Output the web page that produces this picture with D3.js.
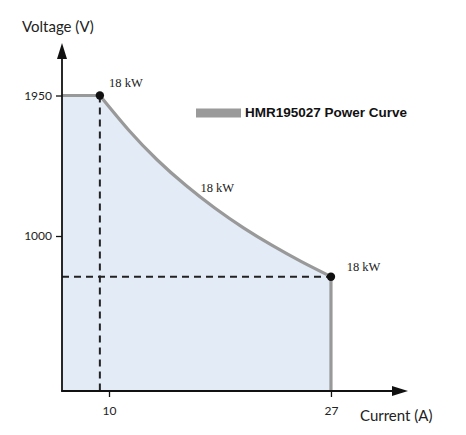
<!DOCTYPE html>
<html>
<head>
<meta charset="utf-8">
<script src="https://cdn.jsdelivr.net/npm/d3@7"></script>
<style>
  html, body { margin: 0; padding: 0; background: #fff; }
  svg { display: block; }
</style>
</head>
<body>
<svg id="chart" width="466" height="435"></svg>
<script>
// ---- data ----
const currentTicks = [10, 27];
const voltageTicks = [1000, 1950];
const curveCurrent = [9.3, 11.5, 13.7, 15.9, 18.1, 20.3, 22.5, 24.7, 27];
const curveVoltage = [1950, 1717, 1514, 1341, 1189, 1055, 936, 828, 725];
const powerLabels = ["18 kW", "18 kW", "18 kW"];
const labelCurrent = [10.0, 17.0, 28.2];
const labelVoltage = [2005, 1295, 765];
const seriesName = "HMR195027 Power Curve";
const xTitle = "Current (A)";
const yTitle = "Voltage (V)";

// ---- layout ----
const svg = d3.select("#chart");
const x = d3.scaleLinear().domain([6.4, 32.9]).range([62, 408]);
const y = d3.scaleLinear().domain([-48, 2305]).range([391, 43]);
const x0 = x.domain()[0], y0 = y.domain()[0];

const curvePts = curveCurrent.map((c, i) => [c, curveVoltage[i]]);
const vMax = curveVoltage[0];
const cStart = curveCurrent[0];
const cEnd = curveCurrent[curveCurrent.length - 1];
const vEnd = curveVoltage[curveVoltage.length - 1];
const flatPts = [[x0, vMax], [cStart, vMax]];

// area fill (flat part + curve part)
const fill = "#e3ebf6";
const areaFlat = d3.area().x(d => x(d[0])).y0(y(y0)).y1(d => y(d[1]));
const areaCurve = d3.area().x(d => x(d[0])).y0(y(y0)).y1(d => y(d[1])).curve(d3.curveNatural);
svg.append("path").attr("d", areaFlat(flatPts)).attr("fill", fill);
svg.append("path").attr("d", areaCurve(curvePts)).attr("fill", fill);

// dashed guides
svg.append("line")
  .attr("x1", x(cStart)).attr("x2", x(cStart))
  .attr("y1", y(vMax)).attr("y2", y(y0))
  .attr("stroke", "#222").attr("stroke-width", 2)
  .attr("stroke-dasharray", "7,5");
svg.append("line")
  .attr("x1", x(x0)).attr("x2", x(cEnd))
  .attr("y1", y(vEnd)).attr("y2", y(vEnd))
  .attr("stroke", "#222").attr("stroke-width", 2)
  .attr("stroke-dasharray", "7,5");

// power curve
const lineFlat = d3.line().x(d => x(d[0])).y(d => y(d[1]));
const lineCurve = d3.line().x(d => x(d[0])).y(d => y(d[1])).curve(d3.curveNatural);
const curveStroke = "#999";
svg.append("path")
  .attr("d", lineFlat(flatPts))
  .attr("fill", "none").attr("stroke", curveStroke).attr("stroke-width", 3.2);
svg.append("path")
  .attr("d", lineCurve(curvePts))
  .attr("fill", "none").attr("stroke", curveStroke).attr("stroke-width", 3.2);
svg.append("line")
  .attr("x1", x(cEnd)).attr("x2", x(cEnd))
  .attr("y1", y(vEnd)).attr("y2", y(y0))
  .attr("stroke", curveStroke).attr("stroke-width", 3.2);

// axes
const xAxis = svg.append("g")
  .attr("transform", `translate(0,${y(y0)})`)
  .call(d3.axisBottom(x).tickValues(currentTicks).tickFormat(d3.format("d")).tickSize(6).tickPadding(9));
const yAxis = svg.append("g")
  .attr("transform", `translate(${x(x0)},0)`)
  .call(d3.axisLeft(y).tickValues(voltageTicks).tickFormat(d3.format("d")).tickSize(6).tickPadding(4));
[xAxis, yAxis].forEach(g => {
  g.select(".domain").remove();
  g.selectAll(".tick line").attr("stroke", "#111").attr("stroke-width", 1.3);
  g.selectAll(".tick text")
    .attr("fill", "#222")
    .style("font-family", "Lato, 'Open Sans', sans-serif")
    .style("font-size", "12px");
});

// axis lines with arrows
const axisColor = "#111";
svg.append("line")
  .attr("x1", x(x0)).attr("x2", x(x0))
  .attr("y1", y(y0) + 0.7).attr("y2", y(y.domain()[1]) + 12)
  .attr("stroke", axisColor).attr("stroke-width", 1.8);
svg.append("line")
  .attr("x1", x(x0) - 0.7).attr("x2", x(x.domain()[1]) - 12)
  .attr("y1", y(y0)).attr("y2", y(y0))
  .attr("stroke", axisColor).attr("stroke-width", 1.8);
const yt = [x(x0), y(y.domain()[1])];
svg.append("path")
  .attr("d", `M${yt[0]},${yt[1]} L${yt[0] - 5},${yt[1] + 16} L${yt[0] + 5},${yt[1] + 16} Z`)
  .attr("fill", axisColor);
const xt = [x(x.domain()[1]), y(y0)];
svg.append("path")
  .attr("d", `M${xt[0]},${xt[1]} L${xt[0] - 16},${xt[1] - 5} L${xt[0] - 16},${xt[1] + 5} Z`)
  .attr("fill", axisColor);

// points
svg.selectAll("circle.pt")
  .data([[cStart, vMax], [cEnd, vEnd]])
  .enter().append("circle")
  .attr("class", "pt")
  .attr("cx", d => x(d[0])).attr("cy", d => y(d[1]))
  .attr("r", 4.2).attr("fill", "#111");

// power labels
svg.selectAll("text.pw")
  .data(powerLabels)
  .enter().append("text")
  .attr("class", "pw")
  .attr("x", (d, i) => x(labelCurrent[i]))
  .attr("y", (d, i) => y(labelVoltage[i]))
  .attr("fill", "#222")
  .style("font-family", "'Liberation Serif', 'DejaVu Serif', serif")
  .style("font-size", "12.5px")
  .text(d => d);

// legend
svg.append("rect")
  .attr("x", 196).attr("y", 108.5).attr("width", 45).attr("height", 9)
  .attr("fill", "#9a9a9a");
svg.append("text")
  .attr("x", 245).attr("y", 117)
  .attr("fill", "#111")
  .style("font-family", "'Liberation Sans', Arial, sans-serif")
  .style("font-size", "13.5px")
  .style("font-weight", "bold")
  .text(seriesName);

// axis titles
svg.append("text")
  .attr("x", 22).attr("y", 32)
  .attr("fill", "#222")
  .style("font-family", "Lato, 'Open Sans', sans-serif")
  .style("font-size", "15px")
  .text(yTitle);
svg.append("text")
  .attr("x", 360).attr("y", 421)
  .attr("fill", "#222")
  .style("font-family", "Lato, 'Open Sans', sans-serif")
  .style("font-size", "15px")
  .text(xTitle);
</script>
</body>
</html>
